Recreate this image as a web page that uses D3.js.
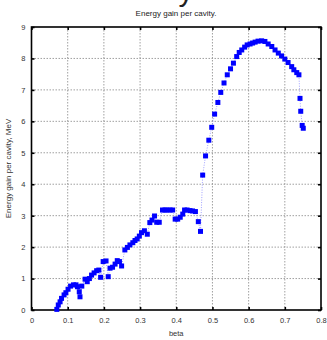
<!DOCTYPE html>
<html>
<head>
<meta charset="utf-8">
<script src="https://cdn.jsdelivr.net/npm/d3@7"></script>
<style>
  html, body { margin: 0; padding: 0; background: #fff; }
  svg { display: block; font-family: "Liberation Sans", Arial, sans-serif; }
</style>
</head>
<body>
<div id="chart"></div>
<script>
// beta values and energy gain (MeV)
const beta = [
  0.070, 0.074, 0.079, 0.083, 0.090, 0.095, 0.101, 0.108, 0.116, 0.123,
  0.127, 0.132, 0.134, 0.139, 0.148, 0.154, 0.160, 0.166, 0.173, 0.180,
  0.186, 0.191, 0.198, 0.206, 0.212, 0.217, 0.224, 0.231, 0.237, 0.243,
  0.249, 0.258, 0.265, 0.272, 0.280, 0.286, 0.292, 0.298, 0.304, 0.312,
  0.320, 0.327, 0.333, 0.340, 0.346, 0.353, 0.362, 0.369, 0.375, 0.383,
  0.390, 0.397, 0.404, 0.411, 0.418, 0.423, 0.430, 0.438, 0.445, 0.453,
  0.461, 0.467, 0.473, 0.481, 0.490, 0.498, 0.506, 0.515, 0.523, 0.532,
  0.541, 0.550, 0.558, 0.567, 0.574, 0.581, 0.589, 0.596, 0.604, 0.611,
  0.618, 0.626, 0.636, 0.645, 0.654, 0.664, 0.673, 0.682, 0.691, 0.700,
  0.709, 0.719, 0.725, 0.733, 0.739, 0.742, 0.744, 0.748, 0.751
];
const energy = [
  0.02, 0.16, 0.26, 0.37, 0.48, 0.55, 0.66, 0.76, 0.80, 0.80,
  0.74, 0.58, 0.42, 0.76, 0.98, 0.90, 1.00, 1.11, 1.18, 1.25,
  1.27, 1.04, 1.54, 1.56, 1.06, 1.33, 1.36, 1.46, 1.57, 1.54,
  1.40, 1.91, 1.99, 2.07, 2.14, 2.21, 2.26, 2.35, 2.46, 2.52,
  2.41, 2.78, 2.86, 2.99, 2.79, 2.79, 3.18, 3.18, 3.18, 3.18,
  3.18, 2.89, 2.89, 2.95, 3.05, 3.18, 3.18, 3.16, 3.15, 3.13,
  2.81, 2.50, 4.29, 4.90, 5.40, 5.81, 6.23, 6.60, 6.92, 7.22,
  7.48, 7.67, 7.85, 8.06, 8.19, 8.27, 8.36, 8.43, 8.46, 8.49,
  8.52, 8.55, 8.56, 8.54, 8.46, 8.38, 8.27, 8.17, 8.08, 7.98,
  7.87, 7.74, 7.64, 7.55, 7.48, 6.73, 6.32, 5.87, 5.78
];
const xTicks = [0, 0.1, 0.2, 0.3, 0.4, 0.5, 0.6, 0.7, 0.8];
const yTicks = [0, 1, 2, 3, 4, 5, 6, 7, 8, 9];

const W = 327, H = 340;
const margin = { top: 27, right: 6, bottom: 30, left: 31.5 };
const width = W - margin.left - margin.right;
const height = H - margin.top - margin.bottom;

const root = d3.select('#chart').append('svg')
  .attr('width', W)
  .attr('height', H);

// cut-off big title glyph at the very top
root.append('text')
  .attr('x', 186).attr('y', 1)
  .attr('text-anchor', 'middle')
  .attr('font-size', 30)
  .attr('fill', '#222')
  .text('y');

root.append('text')
  .attr('x', 176).attr('y', 16)
  .attr('text-anchor', 'middle')
  .attr('font-size', 8)
  .attr('fill', '#222')
  .text('Energy gain per cavity.');

const svg = root.append('g')
  .attr('transform', `translate(${margin.left},${margin.top})`);

const x = d3.scaleLinear().domain([0, 0.8]).range([0, width]);
const y = d3.scaleLinear().domain([0, 9]).range([height, 0]);

// grid
svg.append('g').selectAll('line')
  .data(xTicks.slice(1, -1))
  .enter().append('line')
  .attr('x1', d => x(d)).attr('x2', d => x(d))
  .attr('y1', 0).attr('y2', height)
  .attr('stroke', '#888').attr('stroke-width', 0.8)
  .attr('stroke-dasharray', '1.5,1.5');
svg.append('g').selectAll('line')
  .data(yTicks.slice(1, -1))
  .enter().append('line')
  .attr('x1', 0).attr('x2', width)
  .attr('y1', d => y(d)).attr('y2', d => y(d))
  .attr('stroke', '#888').attr('stroke-width', 0.8)
  .attr('stroke-dasharray', '1.5,1.5');

// axes with inward ticks
const styleAxis = g => {
  g.select('.domain').remove();
  g.selectAll('.tick line').attr('stroke', '#000').attr('stroke-width', 1.6);
  g.selectAll('.tick text').attr('fill', '#333').attr('font-size', 7.5)
    .attr('font-family', '"Liberation Sans", Arial, sans-serif');
};
const fmtX = d => d === 0 ? '0' : d3.format('.1f')(d);

svg.append('g')
  .attr('transform', `translate(0,${height})`)
  .call(d3.axisBottom(x).tickValues(xTicks).tickFormat(fmtX).tickSizeInner(-3).tickPadding(8))
  .call(styleAxis);
svg.append('g')
  .call(d3.axisTop(x).tickValues(xTicks).tickFormat('').tickSizeInner(-3))
  .call(styleAxis);
svg.append('g')
  .call(d3.axisLeft(y).tickValues(yTicks).tickFormat(d3.format('d')).tickSizeInner(-3).tickPadding(6))
  .call(styleAxis);
svg.append('g')
  .attr('transform', `translate(${width},0)`)
  .call(d3.axisRight(y).tickValues(yTicks).tickFormat('').tickSizeInner(-3))
  .call(styleAxis);

// frame
svg.append('rect')
  .attr('x', 0).attr('y', 0)
  .attr('width', width).attr('height', height)
  .attr('fill', 'none')
  .attr('stroke', '#000').attr('stroke-width', 1.6);

// data
const pts = beta.map((b, i) => ({ b, e: energy[i] }));

svg.append('path')
  .datum(pts)
  .attr('fill', 'none')
  .attr('stroke', '#8888ff')
  .attr('stroke-width', 0.8)
  .attr('stroke-dasharray', '1,1.5')
  .attr('d', d3.line().x(d => x(d.b)).y(d => y(d.e)));

const s = 5;
svg.append('g').selectAll('rect')
  .data(pts)
  .enter().append('rect')
  .attr('x', d => x(d.b) - s / 2)
  .attr('y', d => y(d.e) - s / 2)
  .attr('width', s).attr('height', s)
  .attr('fill', '#0000ff');

// axis labels
root.append('text')
  .attr('x', margin.left + x(0.4)).attr('y', 336)
  .attr('text-anchor', 'middle')
  .attr('font-size', 7.5).attr('fill', '#333')
  .text('beta');
root.append('text')
  .attr('transform', `translate(11,${margin.top + height / 2}) rotate(-90)`)
  .attr('text-anchor', 'middle')
  .attr('font-size', 8).attr('fill', '#333')
  .text('Energy gain per cavity, MeV');
</script>
</body>
</html>
